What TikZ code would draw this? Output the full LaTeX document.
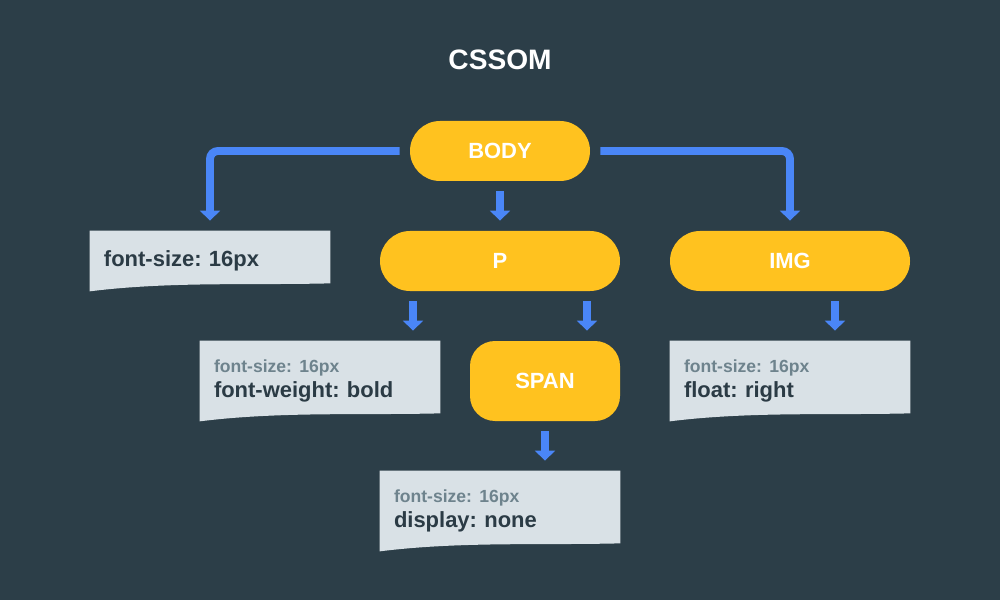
\documentclass[tikz,border=0pt]{standalone}
\usepackage{fontspec}
\setmainfont{Liberation Sans}
\usetikzlibrary{arrows.meta,backgrounds}
\frenchspacing
\definecolor{bgcol}{HTML}{2C3E48}
\definecolor{pillcol}{HTML}{FFC21F}
\definecolor{flowcol}{HTML}{4A86F7}
\definecolor{doccol}{HTML}{D9E1E6}
\definecolor{doctext}{HTML}{2B3B45}
\definecolor{docgray}{HTML}{6E838D}
\tikzset{
  pill/.style={fill=pillcol,text=white,font=\fontsize{12.5pt}{14pt}\selectfont\bfseries,
    rounded corners=6mm,minimum height=12mm,inner sep=0pt},
  docbox/.style={text=doctext,font=\fontsize{12.5pt}{14pt}\selectfont\bfseries,align=left,
    text width=42.4mm,inner xsep=2.8mm,inner ysep=0pt,minimum width=48mm},
  flow/.style={draw=flowcol,line width=4.5pt,-{Triangle[length=5.7pt,width=11.3pt]},
    shorten <=2mm,shorten >=2mm},
}
\newcommand{\propsmall}[1]{{\fontsize{10pt}{11pt}\selectfont\color{docgray}#1}}
\newcommand{\docfill}[1]{\fill[doccol] (#1.north west) -- (#1.north east)
  -- ([yshift=1.6mm]#1.south east)
  .. controls ([xshift=-16mm,yshift=1.2mm]#1.south east) and ([xshift=16mm,yshift=2mm]#1.south west)
  .. (#1.south west) -- cycle;}
\begin{document}
\begin{tikzpicture}[x=0.2mm,y=-0.2mm]
        %% Background
        \begin{scope}[on background layer]
          \fill[bgcol] (0,0) rectangle (1000,600);
        \end{scope}
        %% Title
        \node[font=\fontsize{16pt}{18pt}\selectfont\bfseries,text=white] (title) at (500,60) {CSSOM};
        %% Elements
        \node[pill,minimum width=36mm] (body) at (500,151) {BODY};
        \node[pill,minimum width=48mm] (p) at (500,261) {P};
        \node[pill,minimum width=48mm] (img) at (790,261) {IMG};
        \node[pill,minimum width=30mm,minimum height=16mm,rounded corners=5mm] (span) at (545,381) {SPAN};
        %% Style sheets
        \node[docbox,minimum height=12mm] (sizebox) at (210,261) {font-size: 16px};
        \node[docbox,minimum height=16mm] (weightbox) at (320,381) {\propsmall{font-size: 16px}\\font-weight: bold};
        \node[docbox,minimum height=16mm] (floatbox) at (790,381) {\propsmall{font-size: 16px}\\float: right};
        \node[docbox,minimum height=16mm] (nonebox) at (500,511) {\propsmall{font-size: 16px}\\display: none};
        \begin{scope}[on background layer]
          \docfill{sizebox}
          \docfill{weightbox}
          \docfill{floatbox}
          \docfill{nonebox}
        \end{scope}
        %% Arrows
        \draw[flow,rounded corners=1.6mm,shorten <=0pt] ([xshift=-2mm]body.west) -| (sizebox.north);
        \draw[flow,rounded corners=1.6mm,shorten <=0pt] ([xshift=2mm]body.east) -| (img.north);
        \draw[flow] (body.south) -- (p.north);
        \draw[flow] ([xshift=-17.4mm]p.south) -- ([xshift=-17.4mm]p.south |- weightbox.north);
        \draw[flow] ([xshift=17.4mm]p.south) -- ([xshift=17.4mm]p.south |- span.north);
        \draw[flow] ([xshift=9mm]img.south) -- ([xshift=9mm]img.south |- floatbox.north);
        \draw[flow] (span.south) -- (span.south |- nonebox.north);
    \end{tikzpicture}
\end{document}
